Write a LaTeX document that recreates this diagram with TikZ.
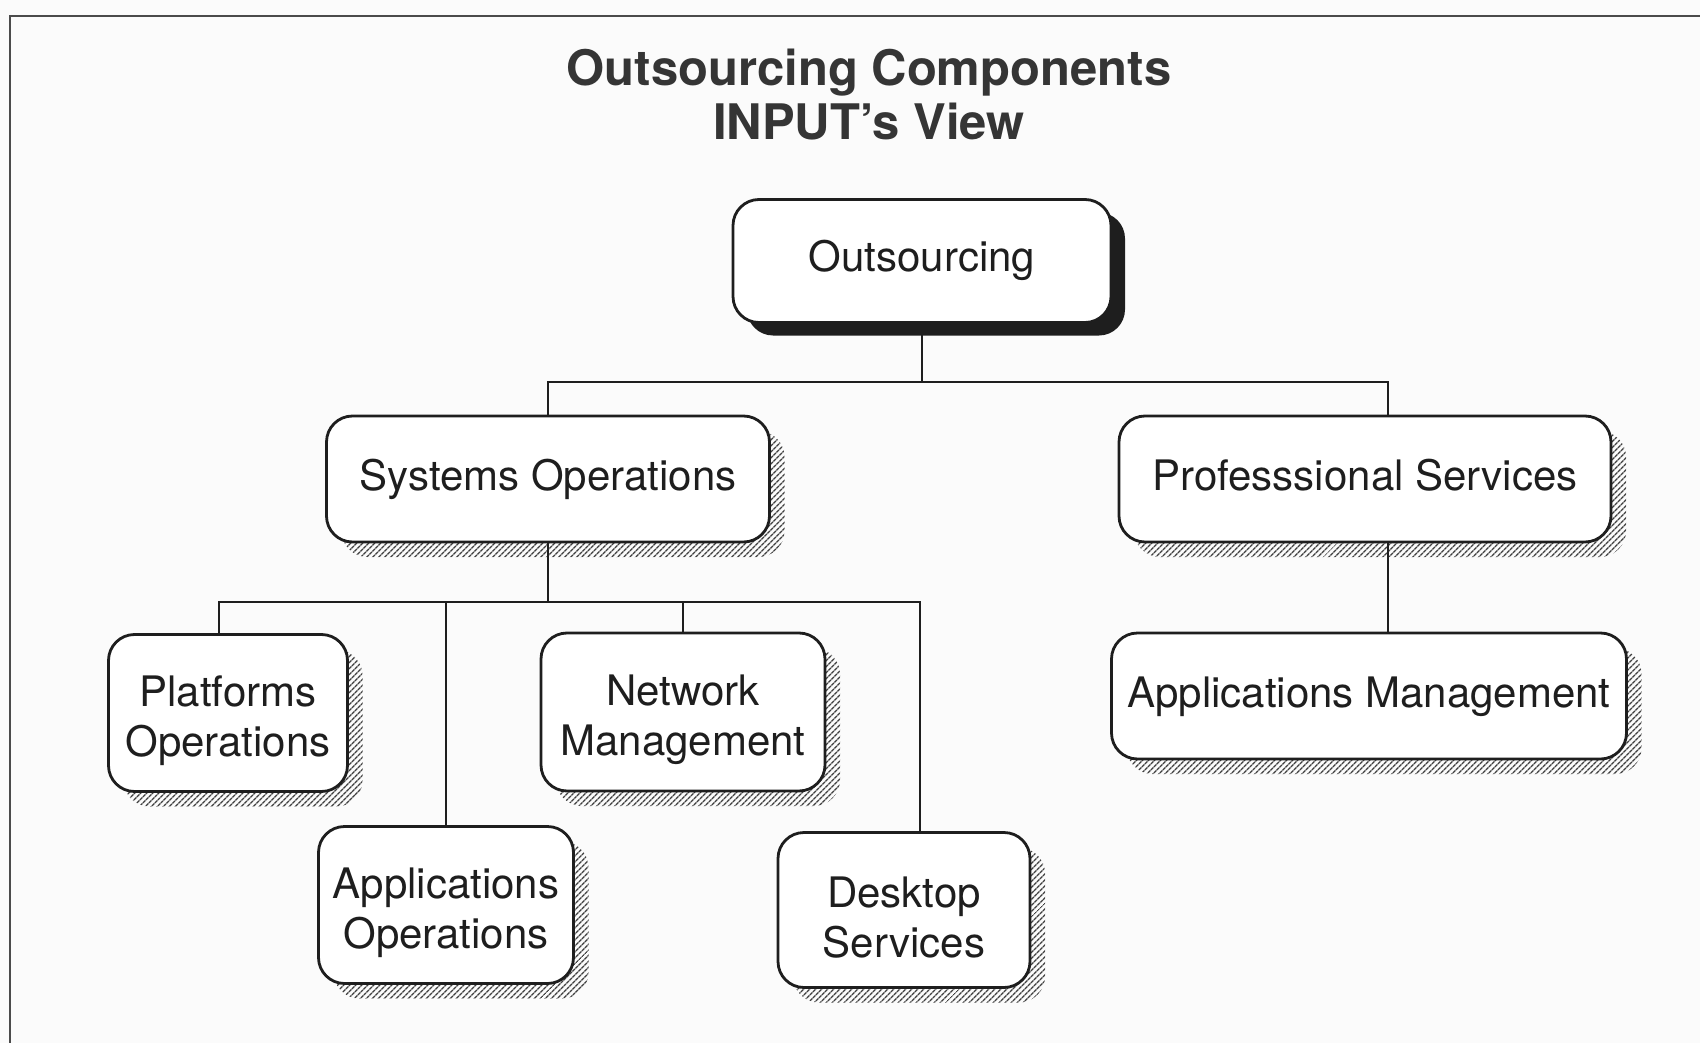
\documentclass[tikz,border=0pt]{standalone}
\usepackage{fontspec}
\setmainfont{TeX Gyre Heros}
\usetikzlibrary{shadows,patterns.meta}
\definecolor{ink}{HTML}{1E1E1E}
\definecolor{paper}{HTML}{FBFBFB}
\newcommand{\lowerfirst}{\rule{0pt}{46pt}}
\tikzset{
  box/.style={draw=ink, line width=2.8pt, fill=white, rounded corners=26pt,
    align=center, text=ink, inner sep=0pt, font=\fontsize{42}{50}\selectfont},
  oneline/.style={text height=31pt, text depth=9pt},
  hatchshadow/.style={general shadow={pattern={Lines[angle=45,distance=4pt,line width=1.5pt]},
    pattern color=ink!85, shadow xshift=15pt, shadow yshift=-15pt}},
  solidshadow/.style={general shadow={fill=ink, shadow xshift=14pt, shadow yshift=-13pt}},
  link/.style={draw=ink, line width=2.6pt},
  frameline/.style={draw=ink!80, line width=2pt},
  titletext/.style={text=ink!90, font=\fontsize{49}{54}\selectfont\bfseries, align=center, inner sep=0pt},
}
\begin{document}
\begin{tikzpicture}[x=1pt,y=-1pt]
  \useasboundingbox[fill=paper] (0,0) rectangle (1700,1043);
  \draw[frameline] (10,1043) -- (10,16) -- (1700,16);

  \node[titletext] (title) at (869,95) {Outsourcing Components\\INPUT’s View};

  \node[box, oneline, solidshadow, minimum width=378pt, minimum height=123pt] (oc) at (922,261) {Outsourcing};
  \node[box, oneline, hatchshadow, minimum width=443pt, minimum height=126pt] (so) at (548,479) {Systems Operations};
  \node[box, oneline, hatchshadow, minimum width=492pt, minimum height=126pt] (ps) at (1365,479) {Professsional Services};
  \node[box, hatchshadow, minimum width=239pt, minimum height=157pt] (po) at (228,713) {\lowerfirst Platforms\\Operations};
  \node[box, hatchshadow, minimum width=255pt, minimum height=157pt] (ao) at (446,905) {\lowerfirst Applications\\Operations};
  \node[box, hatchshadow, minimum width=284pt, minimum height=158pt] (nm) at (683,712) {\lowerfirst Network\\Management};
  \node[box, hatchshadow, minimum width=252pt, minimum height=155pt] (ds) at (904,910) {\lowerfirst Desktop\\Services};
  \node[box, oneline, hatchshadow, minimum width=515pt, minimum height=126pt] (am) at (1369,696) {Applications Management};

  \coordinate (j1) at (922,382);
  \coordinate (j2) at (548,602);

  \draw[link] (oc.south) -- (j1);
  \draw[link] (so.north) |- (j1) -| ([xshift=23pt]ps.north);
  \draw[link] (so.south) -- (j2);
  \draw[link] ([xshift=-9pt]po.north) |- (j2) -| ([xshift=16pt]ds.north);
  \draw[link] (ao.north) -- (ao.north |- j2);
  \draw[link] (nm.north) -- (nm.north |- j2);
  \draw[link] ([xshift=23pt]ps.south) -- ([xshift=19pt]am.north);
\end{tikzpicture}
\end{document}
